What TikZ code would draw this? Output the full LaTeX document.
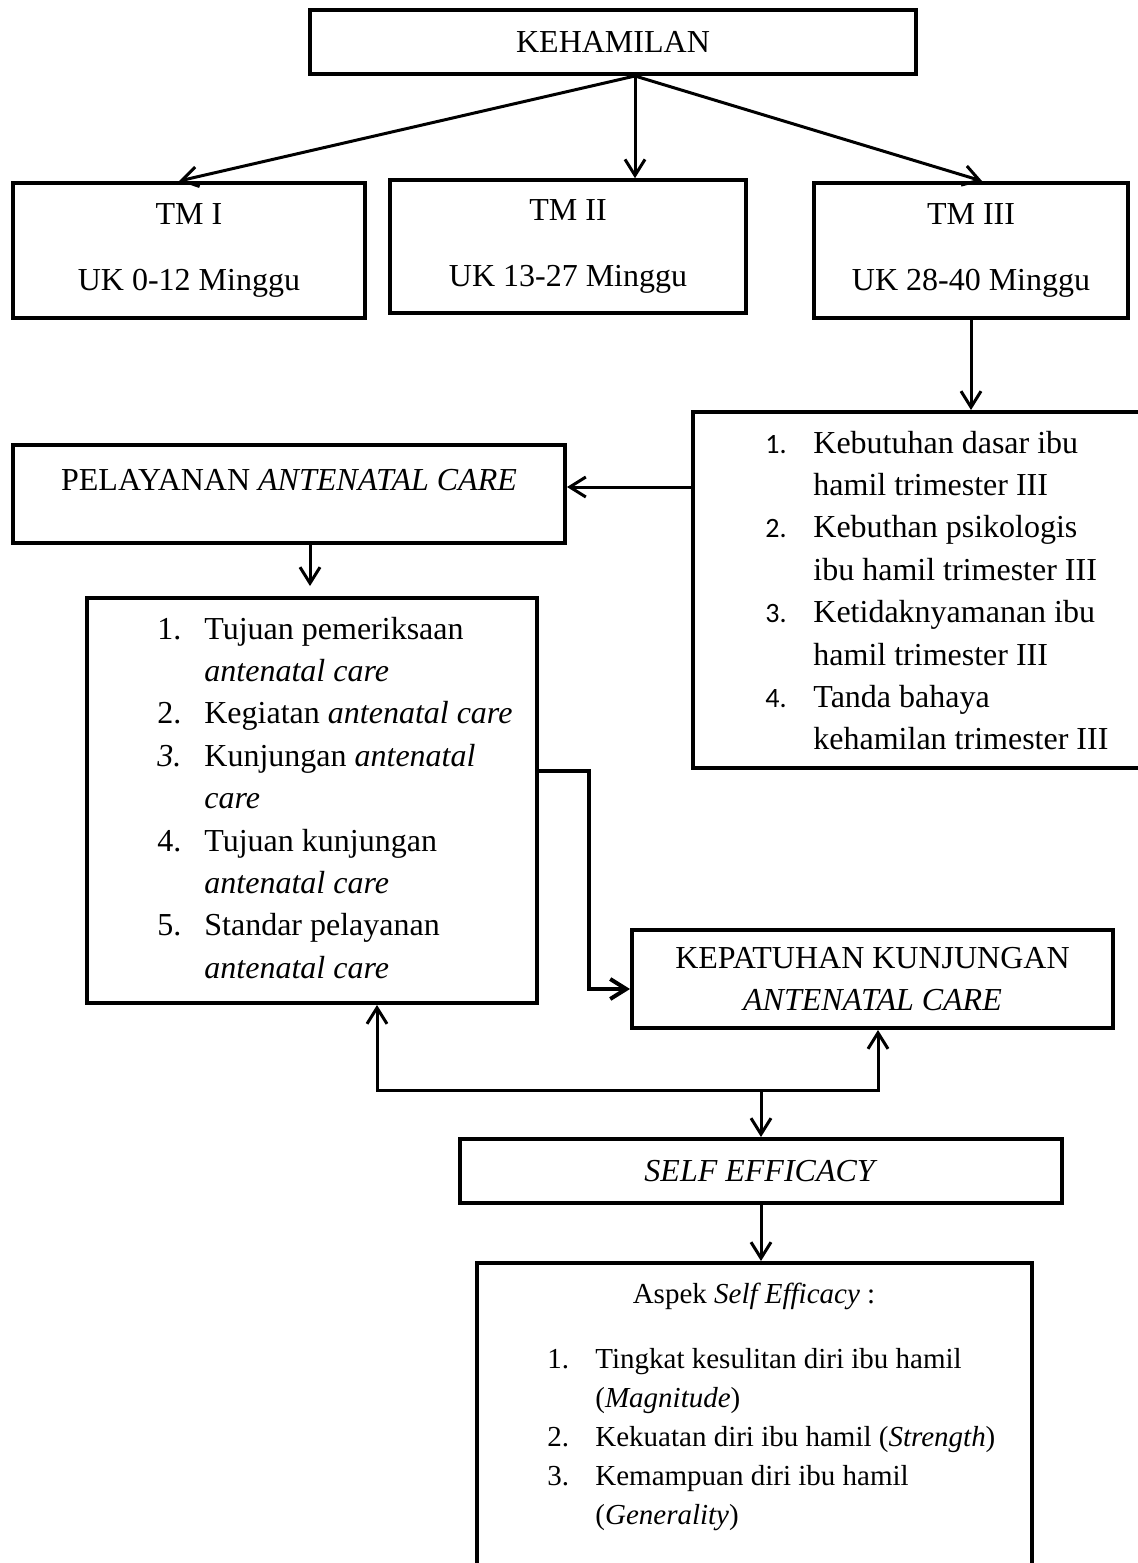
\documentclass[tikz,border=0pt]{standalone}
\usepackage{fontspec}
\setmainfont{Liberation Serif}
\newfontfamily\numfont{Carlito}
\usetikzlibrary{arrows.meta}
\newcommand\cirinum[1]{{\numfont\fontsize{14}{21.2}\selectfont #1}}

\begin{document}
\begin{tikzpicture}[x=0.5pt, y=-0.5pt,
  box/.style={draw, line width=2pt, align=center, inner sep=0pt,
              font=\fontsize{16}{21.2}\selectfont},
  arr/.style={-{Straight Barb[length=8pt,width=10pt]}, line width=1.5pt},
  both/.style={{Straight Barb[length=8pt,width=10pt]}-{Straight Barb[length=8pt,width=10pt]},
               line width=1.5pt},
  items/.style={inner sep=0pt, anchor=base west, font=\fontsize{16}{21.2}\selectfont},
  small/.style={inner sep=0pt, font=\fontsize{14.5}{19.5}\selectfont}
]
  \useasboundingbox (0,0) rectangle (1138,1563);
  \clip (0,0) rectangle (1138,1563);
  \fill[white] (0,0) rectangle (1138,1563);

  \node[box, minimum width=303pt, minimum height=32pt] (hamil) at (613,42) {KEHAMILAN};
  \node[box, minimum width=176pt, minimum height=67.5pt] (tmI) at (189,250.5)
    {TM I\\[12pt]UK 0-12 Minggu};
  \node[box, minimum width=178pt, minimum height=66.5pt] (tmII) at (568,246.7)
    {TM II\\[12pt]UK 13-27 Minggu};
  \node[box, minimum width=157pt, minimum height=67.5pt] (tmIII) at (971,250.5)
    {TM III\\[12pt]UK 28-40 Minggu};

  \node[box, minimum width=228.5pt, minimum height=178pt] (ciri) at (921.5,590) {};
  \node[items] (ciriTxt) at (765,453) {\begin{tabular}[t]{@{}p{24pt}@{}l@{}}
    \cirinum{1.} & Kebutuhan dasar ibu\\
                 & hamil trimester III\\
    \cirinum{2.} & Kebuthan psikologis\\
                 & ibu hamil trimester III\\
    \cirinum{3.} & Ketidaknyamanan ibu\\
                 & hamil trimester III\\
    \cirinum{4.} & Tanda bahaya\\
                 & kehamilan trimester III
  \end{tabular}};

  \node[box, minimum width=276pt, minimum height=49pt] (anc) at (289,494) {};
  \node[items, anchor=base] (ancTxt) at ([yshift=2pt]anc.center)
    {PELAYANAN \textit{ANTENATAL CARE}};

  \node[box, minimum width=225pt, minimum height=202.5pt] (ancList) at (312,800.5) {};
  \node[items] (ancItems) at (157,639) {\begin{tabular}[t]{@{}p{23.5pt}@{}l@{}}
    1.         & Tujuan pemeriksaan\\
               & \textit{antenatal care}\\
    2.         & Kegiatan \textit{antenatal care}\\
    \textit{3.} & Kunjungan \textit{antenatal}\\
               & \textit{care}\\
    4.         & Tujuan kunjungan\\
               & \textit{antenatal care}\\
    5.         & Standar pelayanan\\
               & \textit{antenatal care}
  \end{tabular}};

  \node[box, minimum width=240.5pt, minimum height=49pt] (patuh) at (872.5,979)
    {KEPATUHAN KUNJUNGAN\\\textit{ANTENATAL CARE}};
  \node[box, minimum width=301pt, minimum height=32pt] (se) at (761,1171)
    {\textit{SELF EFFICACY}};

  \node[box, minimum width=277.5pt, minimum height=168.5pt] (aspek) at (754.5,1431.5) {};
  \node[small, anchor=base] (aspekHead) at (754,1303) {Aspek \textit{Self Efficacy} :};
  \node[small, anchor=base west] (aspekItems) at (547,1368) {\begin{tabular}[t]{@{}p{24pt}@{}l@{}}
    1. & Tingkat kesulitan diri ibu hamil\\
       & (\textit{Magnitude})\\
    2. & Kekuatan diri ibu hamil (\textit{Strength})\\
    3. & Kemampuan diri ibu hamil\\
       & (\textit{Generality})
  \end{tabular}};

  \coordinate (fork) at ([xshift=11pt]hamil.south);
  \draw[arr] (fork) -- ([xshift=-5pt]tmI.north);
  \draw[arr] (fork) -- ([xshift=33.5pt]tmII.north);
  \draw[arr] (fork) -- ([xshift=5.5pt]tmIII.north);
  \draw[arr] (tmIII.south) -- (tmIII.south |- ciri.north);
  \coordinate (ancIn) at ([yshift=3.5pt]anc.east);
  \draw[arr] (ciri.west |- ancIn) -- (ancIn);
  \draw[arr, shorten >=5pt] ([xshift=10.5pt]anc.south) -- ([xshift=10.5pt]anc.south |- ancList.north);
  \draw[arr, line width=2pt] ([yshift=14.75pt]ancList.east) -- ++(25pt,0)
    |- ([yshift=-5pt]patuh.west);
  \coordinate (jn) at ([yshift=23.5pt]se.north);
  \draw[both] ([xshift=32.5pt]ancList.south) |- (jn) -| ([xshift=2.75pt]patuh.south);
  \draw[arr] (jn) -- (se.north);
  \draw[arr] (se.south) -- (se.south |- aspek.north);
\end{tikzpicture}
\end{document}
